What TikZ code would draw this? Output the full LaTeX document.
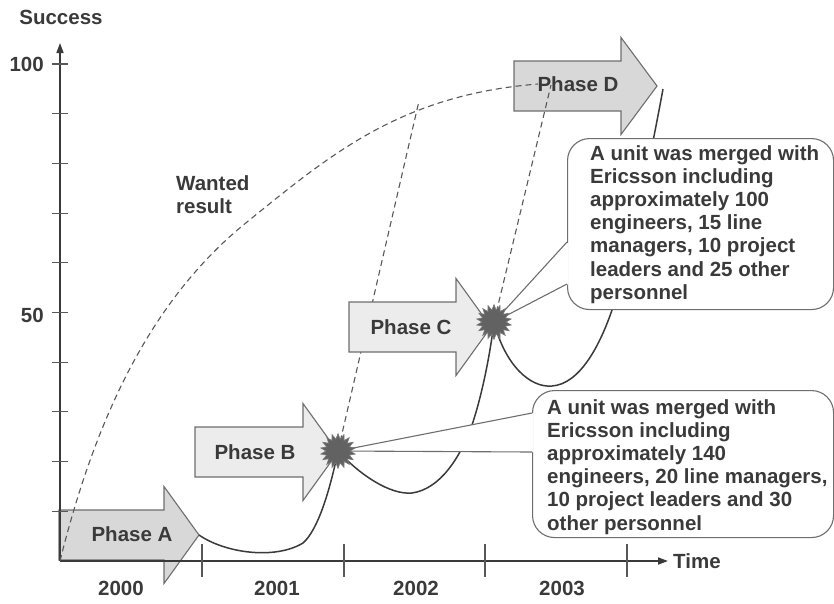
\documentclass[tikz,border=0pt]{standalone}
\usepackage{fontspec}
\setmainfont{Liberation Sans}
\usetikzlibrary{arrows.meta,shapes.geometric}

\definecolor{ink}{HTML}{3A3A3A}
\definecolor{edge}{HTML}{6E6E6E}
\definecolor{burst}{HTML}{626262}
\definecolor{phasedark}{HTML}{D8D8D8}
\definecolor{phaselight}{HTML}{ECECEC}

% phase arrow: fill, body start x, head start x, tip x, centre y
\newcommand\drawphase[5]{%
  \draw[phasebox, fill=#1] (#2,#5-25) -- (#3,#5-25) -- (#3,#5-48.5) -- (#4,#5)
    -- (#3,#5+48.5) -- (#3,#5+25) -- (#2,#5+25) -- cycle;}

\begin{document}
\begin{tikzpicture}[x=1pt,y=-1pt,
  every node/.style={font=\fontsize{20.5}{23.1}\selectfont\bfseries, text=ink, inner sep=0pt},
  axis/.style={draw=ink, line width=1.6pt},
  tickmark/.style={draw=ink!85, line width=1.1pt},
  phasebox/.style={draw=edge, line width=1.1pt},
  growth/.style={draw=ink, line width=1.5pt},
  wanted/.style={draw=ink!85, line width=1.1pt, dash pattern=on 6pt off 4pt},
  callbox/.style={draw=edge, line width=1.1pt, fill=white, rounded corners=22pt},
  callarm/.style={draw=edge, line width=1.1pt},
  merger/.style={star, star points=18, star point ratio=1.45, minimum size=35pt,
    fill=burst, draw=burst!85!white, line width=0.6pt}
]
\useasboundingbox (0,0) rectangle (834,603);

% key points
\coordinate (O) at (60,561);
\coordinate (ytip) at (60,43);
\coordinate (xtip) at (668,561);
\coordinate (tipA) at (199,535);
\coordinate (mB) at (338,451);
\coordinate (mC) at (494,322);
\coordinate (endD) at (663,89);
\coordinate (wantB) at (419,101);
\coordinate (wantC) at (551,85);

% phase arrows lying under the axes and the target curve
\drawphase{phasedark}{59}{164}{199}{535}
\drawphase{phasedark}{514}{621}{657}{86}

% axes
\draw[axis, -{Triangle[length=10pt,width=7pt]}] (O) -- (ytip);
\draw[axis, -{Triangle[length=10pt,width=7pt]}] (O) -- (xtip);
\foreach \k in {0,...,9}
  \draw[tickmark] (52,{64+\k*49.7}) -- (68,{64+\k*49.7});
\foreach \x in {202,344,485,627}
  \draw[tickmark] (\x,544) -- (\x,577);

% wanted result curve and its links to the mergers
\draw[wanted] (O) .. controls (95,420) and (150,300) .. (247,222)
  .. controls (330,155) and (400,95) .. (538,84);
\draw[wanted] (mB) -- (wantB);
\draw[wanted] (mC) -- (wantC);

% remaining phase arrows
\drawphase{phaselight}{195}{303}{338}{452}
\drawphase{phaselight}{349}{456}{491}{327}

% actual success curve
\draw[growth] (tipA) .. controls (225,553) and (275,560) .. (303,543)
  .. controls (318,530) and (330,490) .. (mB);
\draw[growth] (mB) .. controls (360,475) and (390,495) .. (412,493)
  .. controls (440,489) and (460,458) .. (472,425)
  .. controls (482,395) and (490,355) .. (mC);
\draw[growth] (mC) .. controls (505,365) and (530,388) .. (552,386)
  .. controls (580,384) and (600,345) .. (612,310)
  .. controls (630,255) and (648,170) .. (endD);

% callouts
\node[callbox, anchor=north west, minimum width=266pt, minimum height=171pt] (box1) at (567,138) {};
\coordinate (p1a) at (567,242);
\coordinate (p1b) at (567,284);
\fill[white] (mC) -- (568.6,242) -- (568.6,284) -- cycle;
\draw[callarm] (mC) -- (p1a);
\draw[callarm] (mC) -- (p1b);

\node[callbox, anchor=north west, minimum width=301pt, minimum height=147pt] (box2) at (532,390) {};
\coordinate (p2a) at (532,413);
\coordinate (p2b) at (532,452);
\fill[white] (mB) -- (533.6,413) -- (533.6,452) -- cycle;
\draw[callarm] (mB) -- (p2a);
\draw[callarm] (mB) -- (p2b);

% mergers
\node[merger] (starB) at (mB) {};
\node[merger] (starC) at (mC) {};

% labels
\node (ylabel) at (61,17) {Success};
\node[anchor=east] (v100) at (44,64) {100};
\node[anchor=east] (v50) at (44,315) {50};
\node[anchor=west] (xlabel) at (673,561) {Time};
\node (y2000) at (121,588) {2000};
\node (y2001) at (277,588) {2001};
\node (y2002) at (416,588) {2002};
\node (y2003) at (562,588) {2003};
\node[anchor=north west, align=left] (wantedlbl) at (176,175.5) {Wanted\\result};

\node (lblA) at (132,534) {Phase A};
\node (lblB) at (255,452) {Phase B};
\node (lblC) at (411,327) {Phase C};
\node (lblD) at (578,84) {Phase D};

\node[anchor=north west, align=left] (txt1) at (590,145.5)
  {A unit was merged with\\Ericsson including\\approximately 100\\engineers, 15 line\\managers, 10 project\\leaders and 25 other\\personnel};
\node[anchor=north west, align=left] (txt2) at (547,399.5)
  {A unit was merged with\\Ericsson including\\approximately 140\\engineers, 20 line managers,\\10 project leaders and 30\\other personnel};
\end{tikzpicture}
\end{document}
